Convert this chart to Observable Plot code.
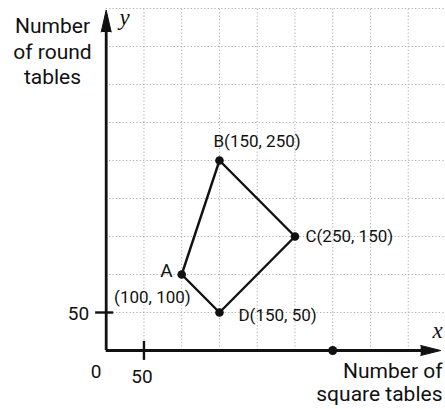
<!DOCTYPE html>
<html><head><meta charset="utf-8">
<script src="https://cdn.jsdelivr.net/npm/d3@7"></script>
<script src="https://cdn.jsdelivr.net/npm/@observablehq/plot@0.6"></script>
<style>
html,body{margin:0;padding:0;background:#fff;}
#chart svg{display:block;}
</style></head><body><div id="chart"></div>
<script>
// Data
const pointNames = ["A", "B", "C", "D"];
const pointX = [100, 150, 250, 150];
const pointY = [100, 250, 150, 50];
const polygonOrder = [0, 1, 2, 3, 0];
const extraPointX = [300];
const extraPointY = [0];
const gridValues = [50, 100, 150, 200, 250, 300, 350, 400, 450];
const axisMax = 450;
const axisTipX = 443;
const axisTipY = 448;
const xTickValues = [50];
const yTickValues = [50];
const originLabel = ["0"];
const xTitle = "Number of\nsquare tables";
const yTitle = "Number\nof round\ntables";
const xVarName = "x";
const yVarName = "y";

const pts = pointNames.map((n, i) => ({name: n, x: pointX[i], y: pointY[i]}));
const poly = polygonOrder.map(i => pts[i]);
const extra = extraPointX.map((x, i) => ({x, y: extraPointY[i]}));
const coordText = d => `(${d.x}, ${d.y})`;
const byName = n => pts.filter(d => d.name === n);

const sans = "Roboto, 'Liberation Sans', Arial, sans-serif";
const serif = "'Liberation Serif', 'Times New Roman', serif";
const ink = "#111";
const fw = 400;
const gridStyle = {stroke: "#ababab", strokeWidth: 1, strokeDasharray: "1.2,2.2"};

const chart = Plot.plot({
  width: 445,
  height: 409,
  margin: 0,
  style: {background: "#fff", color: ink},
  x: {domain: [0, axisMax], range: [105.7, 445.5], axis: null},
  y: {domain: [0, axisMax], range: [350, 8], axis: null},
  marks: [
    // grid
    Plot.ruleX(gridValues, {x: d => d, y1: 0, y2: axisMax, ...gridStyle}),
    Plot.ruleY(gridValues, {y: d => d, x1: 0, x2: axisMax, ...gridStyle}),
    // axes
    Plot.ruleX([0], {x: d => d, y1: 0, y2: axisTipY - 15, stroke: ink, strokeWidth: 2.8}),
    Plot.ruleY([0], {y: d => d, x1: 0, x2: axisTipX - 15, stroke: ink, strokeWidth: 2.8}),
    Plot.vector([{x: 0, y: axisTipY}], {x: "x", y: "y", length: 22, rotate: 0, anchor: "end", shape: "spike", r: 5, fill: ink, stroke: ink, strokeWidth: 1}),
    Plot.vector([{x: axisTipX, y: 0}], {x: "x", y: "y", length: 20, rotate: 90, anchor: "end", shape: "spike", r: 5, fill: ink, stroke: ink, strokeWidth: 1}),
    // tick marks
    Plot.ruleY(yTickValues, {y: d => d, x1: -14, x2: 10, stroke: ink, strokeWidth: 2.4}),
    Plot.ruleX(xTickValues, {x: d => d, y1: -13, y2: 12, stroke: ink, strokeWidth: 2.4}),
    // tick labels
    Plot.text(yTickValues, {x: 0, y: d => d, text: d => String(d), textAnchor: "end", dx: -17, dy: 1, fontSize: 19, fontWeight: fw, fontFamily: sans, fill: ink}),
    Plot.text(xTickValues, {x: d => d, y: 0, text: d => String(d), textAnchor: "middle", dx: -2, dy: 26, fontSize: 19, fontWeight: fw, fontFamily: sans, fill: ink}),
    Plot.text(originLabel, {x: 0, y: 0, text: d => d, textAnchor: "middle", dx: -10, dy: 21, fontSize: 19, fontWeight: fw, fontFamily: sans, fill: ink}),
    // polygon
    Plot.line(poly, {x: "x", y: "y", stroke: ink, strokeWidth: 2.4, curve: "linear"}),
    Plot.dot(pts, {x: "x", y: "y", r: 4.3, fill: ink}),
    Plot.dot(extra, {x: "x", y: "y", r: 4.5, fill: ink}),
    // point labels
    Plot.text(byName("B"), {x: "x", y: "y", text: d => d.name + coordText(d), textAnchor: "start", dx: -6, dy: -19, fontSize: 17, fontWeight: fw, fontFamily: sans, fill: ink}),
    Plot.text(byName("C"), {x: "x", y: "y", text: d => d.name + coordText(d), textAnchor: "start", dx: 10.5, dy: 0, fontSize: 17, fontWeight: fw, fontFamily: sans, fill: ink}),
    Plot.text(byName("D"), {x: "x", y: "y", text: d => d.name + coordText(d), textAnchor: "start", dx: 19, dy: 3, fontSize: 17, fontWeight: fw, fontFamily: sans, fill: ink}),
    Plot.text(byName("A"), {x: "x", y: "y", text: d => d.name, textAnchor: "end", dx: -9, dy: -4, fontSize: 19, fontWeight: fw, fontFamily: sans, fill: ink}),
    Plot.text(byName("A"), {x: "x", y: "y", text: d => coordText(d), textAnchor: "end", dx: 9, dy: 23, fontSize: 17, fontWeight: fw, fontFamily: sans, fill: ink}),
    // axis titles
    Plot.text([yTitle], {frameAnchor: "top-left", text: d => d, dx: 52, dy: 15, textAnchor: "middle", lineAnchor: "top", lineHeight: 1.2, fontSize: 21, fontWeight: fw, fontFamily: sans, fill: ink}),
    Plot.text([xTitle], {frameAnchor: "top-left", text: d => d, dx: 442, dy: 361, textAnchor: "end", lineAnchor: "top", lineHeight: 1.1, fontSize: 21, fontWeight: fw, fontFamily: sans, fill: ink}),
    Plot.text([yVarName], {frameAnchor: "top-left", text: d => d, dx: 119, dy: 24, textAnchor: "start", lineAnchor: "bottom", fontSize: 23, fontStyle: "italic", fontFamily: serif, fill: ink}),
    Plot.text([xVarName], {frameAnchor: "top-left", text: d => d, dx: 432, dy: 337, textAnchor: "start", lineAnchor: "bottom", fontSize: 23, fontStyle: "italic", fontFamily: serif, fill: ink})
  ]
});
document.getElementById("chart").appendChild(chart);
</script>
</body></html>
